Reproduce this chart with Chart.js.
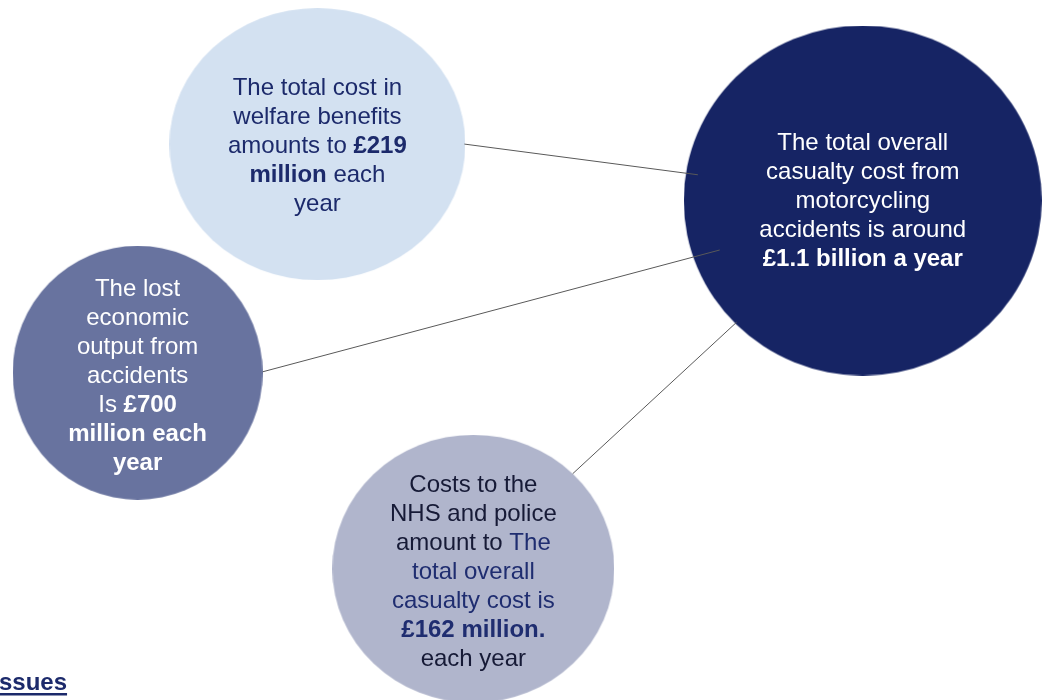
<!DOCTYPE html>
<html>
<head>
<meta charset="utf-8">
<script src="https://cdn.jsdelivr.net/npm/chart.js@4.4.0/dist/chart.umd.min.js"></script>
<style>
  html, body { margin: 0; padding: 0; background: #fff; overflow: hidden; }
  #wrap { width: 1051px; height: 700px; position: relative; }
</style>
</head>
<body>
<div id="wrap"><canvas id="chart" width="1051" height="700"></canvas></div>
<script>
// Categories and their yearly cost (GBP million)
const categories = ['Welfare benefits', 'Lost economic output', 'NHS and police', 'Total casualty cost'];
const costValues = [219, 700, 162, 1100];

// Text inside each bubble (*bold*, ~accent colour~)
const bubbleText = [
    ['The total cost in', 'welfare benefits', 'amounts to *£219*', '*million* each', 'year'],
    ['The lost', 'economic', 'output from', 'accidents', 'Is *£700*', '*million each*', '*year*'],
    ['Costs to the', 'NHS and police', 'amount to ~The~', '~total overall~', '~casualty cost is~', '~*£162 million.*~', 'each year'],
    ['The total overall', 'casualty cost from', 'motorcycling', 'accidents is around', '*£1.1 billion a year*']
];

// Layout of the diagram (in canvas units)
const centerX = [316, 135, 473, 865];
const centerY = [142, 373, 571, 199];
const radiusX = [148, 125, 141, 179];
const radiusY = [136, 127, 134, 175];
const textShift = [2, 4, 4, 1];
// where each connector leaves its small bubble, and where it stops inside the hub
const connectorFrom = [[464, 142], [261, 372], [573, 475]];
const connectorTo = [[699, 173], [721, 249], [738, 322]];

// Styles
const fillColors = ['#d3e1f1', '#68739f', '#b0b5cc', '#162464'];
const textColors = ['#1c2a6b', '#ffffff', '#161a36', '#ffffff'];
const accentColors = ['#1c2a6b', '#ffffff', '#1f2d70', '#ffffff'];
const fontFamily = '"Liberation Sans", Arial, sans-serif';
const fontSize = 24;
const lineGap = 29;

// Ellipse shaped point style (the bubbles are slightly squashed)
function ellipseStyle(rx, ry, color) {
    const c = document.createElement('canvas');
    c.width = Math.round(rx * 2);
    c.height = Math.round(ry * 2);
    const g = c.getContext('2d');
    g.fillStyle = color;
    g.beginPath();
    g.ellipse(c.width / 2, c.height / 2, rx, ry, 0, 0, Math.PI * 2);
    g.fill();
    return c;
}

// Split a line into runs of {text, bold, accent}
function parseLine(line) {
    const runs = [];
    let bold = false, accent = false, buf = '';
    for (const ch of line) {
        if (ch === '*' || ch === '~') {
            if (buf) runs.push({ text: buf, bold, accent });
            buf = '';
            if (ch === '*') bold = !bold; else accent = !accent;
        } else {
            buf += ch;
        }
    }
    if (buf) runs.push({ text: buf, bold, accent });
    return runs;
}

const bubbleLabels = {
    id: 'bubbleLabels',
    afterDatasetsDraw(chart) {
        const ctx = chart.ctx;
        const meta = chart.getDatasetMeta(0);
        ctx.save();
        ctx.textBaseline = 'middle';
        ctx.textAlign = 'left';
        meta.data.forEach((pt, i) => {
            const lines = bubbleText[i];
            const top = pt.y - (lines.length - 1) * lineGap / 2 + textShift[i];
            lines.forEach((line, j) => {
                const runs = parseLine(line);
                let width = 0;
                runs.forEach(r => {
                    ctx.font = (r.bold ? 'bold ' : '') + fontSize + 'px ' + fontFamily;
                    r.w = ctx.measureText(r.text).width;
                    width += r.w;
                });
                let x = pt.x - width / 2;
                runs.forEach(r => {
                    ctx.font = (r.bold ? 'bold ' : '') + fontSize + 'px ' + fontFamily;
                    ctx.fillStyle = r.accent ? accentColors[i] : textColors[i];
                    ctx.fillText(r.text, x, top + j * lineGap);
                    x += r.w;
                });
            });
        });

        // "Issues" heading, cut off at the left edge of the slide
        ctx.font = 'bold 24px ' + fontFamily;
        ctx.fillStyle = '#1c2a6b';
        ctx.textBaseline = 'alphabetic';
        const iw = ctx.measureText('I').width;
        const tw = ctx.measureText('Issues').width;
        ctx.fillText('Issues', -iw - 1, 690);
        ctx.fillRect(0, 693, tw - iw - 1, 2.5);
        ctx.restore();
    }
};

const bubbleData = categories.map((c, i) => ({ x: centerX[i], y: centerY[i] }));

const connectorSets = connectorFrom.map((from, i) => ({
    type: 'line',
    label: categories[i] + ' link',
    data: [{ x: from[0], y: from[1] }, { x: connectorTo[i][0], y: connectorTo[i][1] }],
    borderColor: '#595959',
    borderWidth: 1,
    pointRadius: 0,
    fill: false,
    order: 0,
    clip: false
}));

new Chart(document.getElementById('chart'), {
    type: 'scatter',
    data: {
        datasets: [{
            label: 'Cost (£ million a year)',
            data: bubbleData,
            pointStyle: categories.map((c, i) => ellipseStyle(radiusX[i], radiusY[i], fillColors[i])),
            pointRadius: 0.1,
            backgroundColor: fillColors,
            borderWidth: 0,
            order: 1,
            clip: false
        }].concat(connectorSets)
    },
    options: {
        responsive: false,
        animation: false,
        events: [],
        layout: { padding: 0 },
        plugins: { legend: { display: false }, tooltip: { enabled: false } },
        scales: {
            x: { type: 'linear', min: 0.5, max: 1050.5, display: false },
            y: { type: 'linear', min: 0.5, max: 699.5, reverse: true, display: false }
        }
    },
    plugins: [bubbleLabels]
});
</script>
</body>
</html>
